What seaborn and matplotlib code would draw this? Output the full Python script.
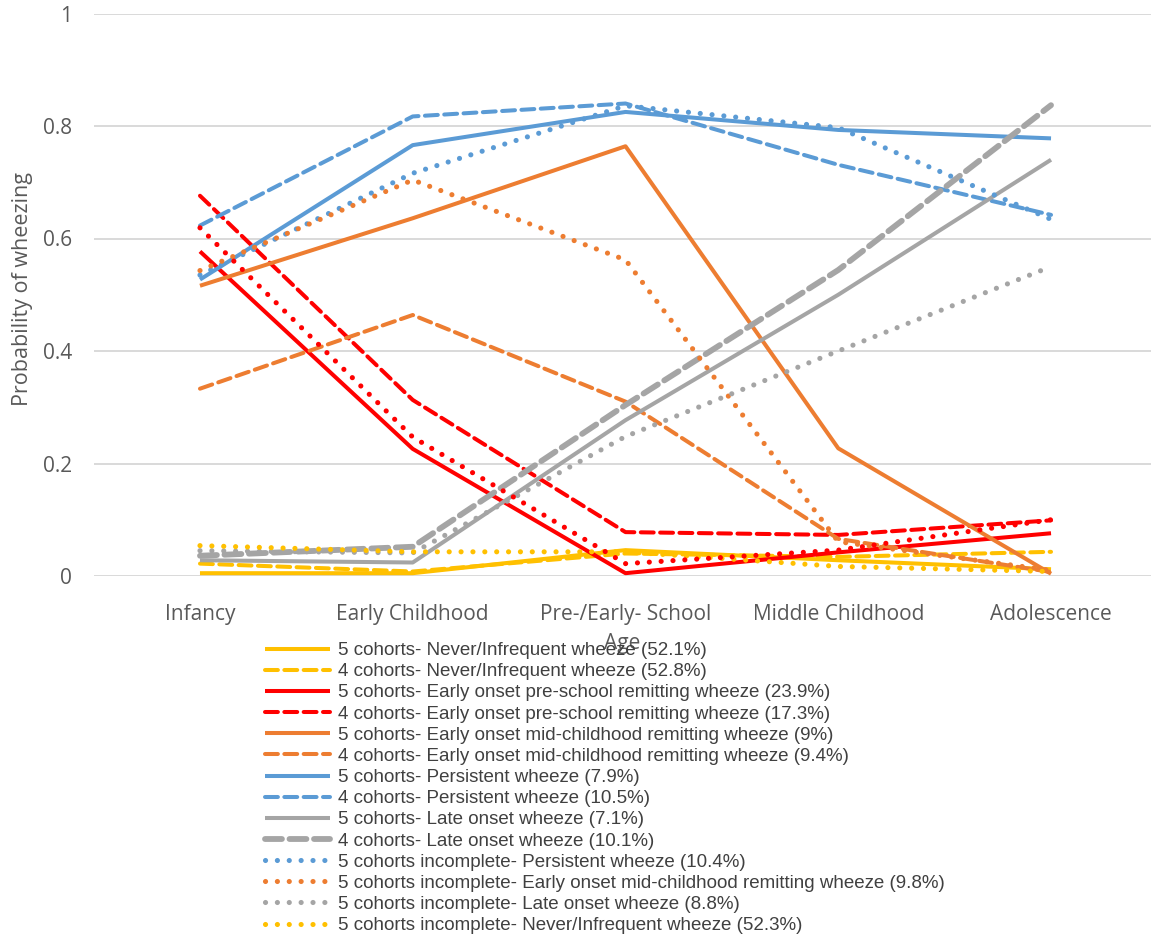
import matplotlib
matplotlib.use("Agg")
import matplotlib.pyplot as plt
import seaborn as sns
from matplotlib.font_manager import FontProperties

# Age stages on the x axis
stages = ["Infancy", "Early Childhood", "Pre-/Early- School", "Middle Childhood", "Adolescence"]
y_ticks = [0, 0.2, 0.4, 0.6, 0.8, 1]
y_tick_labels = ["0", "0.2", "0.4", "0.6", "0.8", "1"]

# Probability of wheezing per trajectory and analysis
never_5c = [0.005, 0.005, 0.046, 0.028, 0.012]
never_4c = [0.022, 0.008, 0.040, 0.034, 0.043]
early_pre_5c = [0.577, 0.226, 0.005, 0.042, 0.076]
early_pre_4c = [0.676, 0.313, 0.078, 0.073, 0.099]
early_mid_5c = [0.516, 0.636, 0.764, 0.227, 0.004]
early_mid_4c = [0.333, 0.464, 0.310, 0.066, 0.007]
persistent_5c = [0.527, 0.766, 0.825, 0.793, 0.778]
persistent_4c = [0.623, 0.817, 0.840, 0.731, 0.642]
late_5c = [0.028, 0.024, 0.277, 0.500, 0.740]
late_4c = [0.036, 0.052, 0.304, 0.544, 0.837]
persistent_inc = [0.535, 0.716, 0.836, 0.797, 0.634]
early_mid_inc = [0.543, 0.704, 0.562, 0.061, 0.010]
late_inc = [0.045, 0.041, 0.248, 0.400, 0.550]
never_inc = [0.054, 0.043, 0.043, 0.017, 0.008]
early_pre_inc = [0.619, 0.247, 0.022, 0.046, 0.100]

YELLOW = "#FFC000"
RED = "#FF0000"
ORANGE = "#ED7D31"
BLUE = "#5B9BD5"
GREY = "#A5A5A5"

SOLID = "solid"
DASH = (0, (3.2, 1.6))
LONGDASH = (0, (2.9, 1.3))
DOT = (0, (0.01, 2.3))

# (values, colour, style, line width, legend label)
series = [
    (never_5c, YELLOW, SOLID, 2.9, "5 cohorts- Never/Infrequent wheeze (52.1%)"),
    (never_4c, YELLOW, DASH, 2.9, "4 cohorts- Never/Infrequent wheeze (52.8%)"),
    (early_pre_5c, RED, SOLID, 2.9, "5 cohorts- Early onset pre-school remitting wheeze (23.9%)"),
    (early_pre_4c, RED, DASH, 2.9, "4 cohorts- Early onset pre-school remitting wheeze (17.3%)"),
    (early_mid_5c, ORANGE, SOLID, 2.9, "5 cohorts- Early onset mid-childhood remitting wheeze (9%)"),
    (early_mid_4c, ORANGE, DASH, 2.9, "4 cohorts- Early onset mid-childhood remitting wheeze (9.4%)"),
    (persistent_5c, BLUE, SOLID, 2.9, "5 cohorts- Persistent wheeze (7.9%)"),
    (persistent_4c, BLUE, DASH, 2.9, "4 cohorts- Persistent wheeze (10.5%)"),
    (late_5c, GREY, SOLID, 2.9, "5 cohorts- Late onset wheeze (7.1%)"),
    (late_4c, GREY, LONGDASH, 4.2, "4 cohorts- Late onset wheeze (10.1%)"),
    (persistent_inc, BLUE, DOT, 3.7, "5 cohorts incomplete- Persistent wheeze (10.4%)"),
    (early_mid_inc, ORANGE, DOT, 3.7, "5 cohorts incomplete- Early onset mid-childhood remitting wheeze (9.8%)"),
    (late_inc, GREY, DOT, 3.7, "5 cohorts incomplete- Late onset wheeze (8.8%)"),
    (never_inc, YELLOW, DOT, 3.7, "5 cohorts incomplete- Never/Infrequent wheeze (52.3%)"),
    (early_pre_inc, RED, DOT, 3.7, "_nolegend_"),
]

sns.set_style("white")
plt.rcParams["font.family"] = ["Open Sans", "DejaVu Sans"]

W, H = 1151, 936
fig = plt.figure(figsize=(W / 100, H / 100), dpi=100)
left, right, top, bottom = 93.6, 1157.4, 13.5, 576.0
ax = fig.add_axes([left / W, 1 - bottom / H, (right - left) / W, (bottom - top) / H])

xpos = list(range(len(stages)))
for vals, color, style, lw, label in series:
    sns.lineplot(x=xpos, y=vals, ax=ax, color=color, linewidth=lw,
                 label=label, sort=False, estimator=None)
    line = ax.lines[-1]
    line.set_linestyle(style)
    line.set_dash_capstyle("round")
    line.set_solid_capstyle("butt")

ax.set_xlim(-0.5, len(stages) - 0.5)
ax.set_ylim(0, 1)
ax.set_xticks(xpos)
ax.set_xticklabels(stages)
ax.set_yticks(y_ticks)
ax.set_yticklabels(y_tick_labels)
ax.tick_params(axis="both", length=0, labelsize=15, labelcolor="#595959")
ax.tick_params(axis="y", pad=15.5)
ax.tick_params(axis="x", pad=20.5)
ax.yaxis.grid(True, color="#D9D9D9", linewidth=1.4)
ax.set_axisbelow(True)
for s in ax.spines.values():
    s.set_visible(False)

ax.set_ylabel("Probability of wheezing", fontsize=15.5, color="#595959")
ax.yaxis.set_label_coords(-61 / (right - left), 0.51)
fig.text(622 / W, 1 - 644 / H, "Age", ha="center", va="center",
         fontsize=15, color="#595959")

handles, labels = ax.get_legend_handles_labels()
if ax.legend_:
    ax.legend_.remove()
leg = fig.legend(handles, labels, loc="upper left",
                 bbox_to_anchor=(265 / W, 1 - 642 / H),
                 frameon=False, handlelength=3.45, handletextpad=0.42,
                 labelspacing=0.215, borderaxespad=0, borderpad=0,
                 prop=FontProperties(family="Liberation Sans", size=13.5))
for t in leg.get_texts():
    t.set_color("#404040")

fig.savefig("out.png", dpi=100)
